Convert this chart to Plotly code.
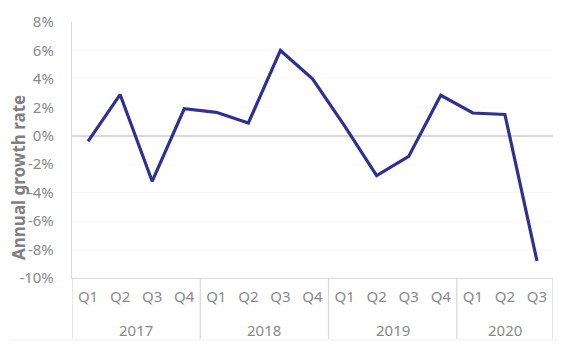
import plotly.graph_objects as go

years = ["2017", "2018", "2019", "2020"]
quarters = ["Q1", "Q2", "Q3", "Q4", "Q1", "Q2", "Q3", "Q4", "Q1", "Q2", "Q3", "Q4", "Q1", "Q2", "Q3"]
quarter_years = ["2017"] * 4 + ["2018"] * 4 + ["2019"] * 4 + ["2020"] * 3
growth = [-0.4, 2.9, -3.2, 1.9, 1.65, 0.9, 6.0, 4.0, 0.7, -2.8, -1.45, 2.85, 1.6, 1.5, -8.8]
yticks = [8, 6, 4, 2, 0, -2, -4, -6, -8, -10]

cats = [f"{q} {y}" for q, y in zip(quarters, quarter_years)]

FONT = "Noto Sans"
GRAY = "#8a8a8a"
LINEC = "#d9d9d9"
FS = 15

fig = go.Figure()
fig.add_trace(go.Scatter(
    x=cats, y=growth, mode="lines",
    line=dict(color="#2E3192", width=3.2),
    hoverinfo="skip", showlegend=False,
))

# page body adds an 8px offset; compensate
OFF = 8
W, H = 565, 359
plot_x0, plot_x1, plot_y0, plot_y1 = 72, 553, 22, 278
L = plot_x0 - OFF
T = plot_y0 - OFF
plot_w = plot_x1 - plot_x0
plot_h = plot_y1 - plot_y0
R = W - L - plot_w
B = H - T - plot_h


def py(y_px):
    return (plot_y1 - y_px) / plot_h


def px(x_px):
    return (x_px - plot_x0) / plot_w


shapes = []
for xv in [-0.5, 3.5, 7.5, 11.5, 14.5]:
    shapes.append(dict(type="line", xref="x", yref="paper", x0=xv, x1=xv,
                       y0=0, y1=py(339),
                       line=dict(color=LINEC, width=1.3)))
shapes.append(dict(type="line", xref="paper", yref="paper",
                   x0=px(9), x1=px(565), y0=py(340), y1=py(340),
                   line=dict(color="#f0f0f0", width=1)))

annotations = []
year_centers = [1.5, 5.5, 9.5, 13.0]
for yr, xc in zip(years, year_centers):
    annotations.append(dict(x=xc, y=py(330), xref="x", yref="paper",
                            text=yr, showarrow=False, yanchor="middle",
                            font=dict(family=FONT, size=FS, color=GRAY)))
annotations.append(dict(x=px(18), y=py(178), xref="paper", yref="paper",
                        text="<b>Annual growth rate</b>", textangle=-90,
                        showarrow=False, xanchor="center", yanchor="middle",
                        font=dict(family=FONT, size=17, color="#808080")))

fig.update_layout(
    width=W, height=H,
    margin=dict(l=L, r=R, t=T, b=B, pad=0),
    paper_bgcolor="white", plot_bgcolor="white",
    font=dict(family=FONT, size=FS, color=GRAY),
    xaxis=dict(
        type="category", categoryorder="array", categoryarray=cats,
        tickvals=cats, ticktext=quarters,
        range=[-0.5, 14.5], automargin=False,
        showgrid=False, zeroline=False,
        showline=True, linecolor=LINEC, linewidth=1.3,
        ticks="", ticklabelstandoff=5,
        tickfont=dict(family=FONT, size=FS, color=GRAY),
    ),
    yaxis=dict(
        range=[-10, 8], tickvals=yticks, automargin=False,
        ticktext=[f"{v}%" for v in yticks],
        showgrid=True, gridcolor="#fafafa", gridwidth=1,
        zeroline=True, zerolinecolor=LINEC, zerolinewidth=2,
        showline=True, linecolor=LINEC, linewidth=1.3,
        ticks="", ticklabelstandoff=14,
        tickfont=dict(family=FONT, size=FS, color=GRAY),
    ),
    shapes=shapes,
    annotations=annotations,
)

fig.write_html("out.html")
